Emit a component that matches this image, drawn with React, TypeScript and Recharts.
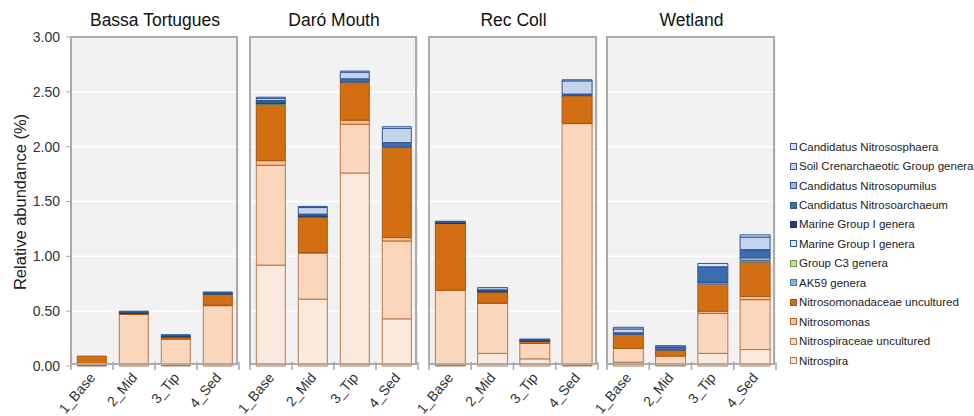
import React from 'react';
import { BarChart, Bar, XAxis, YAxis, CartesianGrid } from 'recharts';

// sites (panels) and samples (bars in each panel)
const sites = ['Bassa Tortugues', 'Daró Mouth', 'Rec Coll', 'Wetland'];
const samples = ['1_Base', '2_Mid', '3_Tip', '4_Sed'];
const yTicks = [0, 0.5, 1, 1.5, 2, 2.5, 3];

// values per taxon, order: BT 1-4, DM 1-4, RC 1-4, W 1-4
const nitrospira = [0, 0, 0.005, 0, 0.92, 0.61, 1.76, 0.43, 0.005, 0.115, 0.065, 0.005, 0.035, 0.01, 0.115, 0.15];
const nitrospiraceae = [0, 0.47, 0.24, 0.55, 0.91, 0.42, 0.445, 0.71, 0.685, 0.455, 0.14, 2.205, 0.125, 0.08, 0.365, 0.455];
const nitrosomonas = [0, 0, 0, 0.005, 0.043, 0.005, 0.037, 0.031, 0, 0.005, 0, 0.005, 0, 0, 0.02, 0.03];
const nitrosomonadaceae = [0.09, 0.01, 0.02, 0.095, 0.51, 0.325, 0.347, 0.826, 0.61, 0.1, 0.021, 0.25, 0.128, 0.055, 0.247, 0.313];
const ak59 = [0, 0, 0, 0, 0, 0, 0, 0, 0, 0, 0, 0, 0, 0, 0.005, 0.01];
const groupC3 = [0, 0, 0, 0.005, 0.008, 0, 0, 0, 0, 0, 0, 0, 0, 0, 0.008, 0.008];
const marineLight = [0, 0, 0, 0, 0, 0, 0, 0, 0, 0, 0, 0, 0, 0, 0.005, 0.02];
const marineDark = [0, 0.01, 0.01, 0.01, 0.01, 0.01, 0, 0, 0.01, 0.01, 0.01, 0, 0, 0, 0, 0];
const nitrosoarchaeum = [0, 0.01, 0.01, 0.01, 0.015, 0.015, 0.03, 0.04, 0.01, 0.01, 0.01, 0.015, 0.015, 0.03, 0.14, 0.07];
const nitrosopumilus = [0, 0, 0, 0, 0.005, 0, 0, 0, 0, 0, 0, 0, 0, 0, 0, 0.005];
const soilCren = [0, 0, 0, 0, 0.02, 0.06, 0.06, 0.13, 0, 0.02, 0, 0.12, 0.035, 0, 0, 0.115];
const nitrososphaera = [0, 0, 0, 0, 0.01, 0.01, 0.01, 0.015, 0, 0, 0, 0.01, 0.015, 0.01, 0.03, 0.02];

// stack order bottom -> top
const series = [
  { key: 'nitrospira', name: 'Nitrospira', values: nitrospira, fill: '#FBE9DD', stroke: '#B8784A' },
  { key: 'nitrospiraceae', name: 'Nitrospiraceae uncultured', values: nitrospiraceae, fill: '#F9D6BC', stroke: '#B8784A' },
  { key: 'nitrosomonas', name: 'Nitrosomonas', values: nitrosomonas, fill: '#F7C39D', stroke: '#C0601A' },
  { key: 'nitrosomonadaceae', name: 'Nitrosomonadaceae uncultured', values: nitrosomonadaceae, fill: '#D26F12', stroke: '#A9550D' },
  { key: 'ak59', name: 'AK59 genera', values: ak59, fill: '#8DB1DF', stroke: '#4A78B8' },
  { key: 'groupC3', name: 'Group C3 genera', values: groupC3, fill: '#C3DDB0', stroke: '#70A040' },
  { key: 'marineLight', name: 'Marine Group I genera', values: marineLight, fill: '#E2ECF8', stroke: '#2F5597' },
  { key: 'marineDark', name: 'Marine Group I genera', values: marineDark, fill: '#243F72', stroke: '#1F3864' },
  { key: 'nitrosoarchaeum', name: 'Candidatus Nitrosoarchaeum', values: nitrosoarchaeum, fill: '#3C6CB0', stroke: '#2F5597' },
  { key: 'nitrosopumilus', name: 'Candidatus Nitrosopumilus', values: nitrosopumilus, fill: '#9DB8E0', stroke: '#2F5597' },
  { key: 'soilCren', name: 'Soil Crenarchaeotic Group genera', values: soilCren, fill: '#C4D4EC', stroke: '#2F5597' },
  { key: 'nitrososphaera', name: 'Candidatus Nitrososphaera', values: nitrososphaera, fill: '#D9E4F4', stroke: '#2F5597' },
];

const FONT = '"Liberation Sans", Arial, Helvetica, sans-serif';
const PLOT_TOP = 37;
const PLOT_BOTTOM = 366;

const panels = [
  { left: 0, width: 239, marginLeft: 11, yAxis: true },
  { left: 250, width: 168, marginLeft: 0, yAxis: false },
  { left: 429, width: 169, marginLeft: 0, yAxis: false },
  { left: 607, width: 169, marginLeft: 0, yAxis: false },
];

const siteData = sites.map((_, si) =>
  samples.map((s, ci) => {
    const row: any = { sample: s };
    series.forEach((sr) => (row[sr.key] = sr.values[si * 4 + ci]));
    return row;
  })
);

const makeTick = (band: number) => (props: any) => {
  const { x, y, payload, index } = props;
  const tx = x + 4;
  const ty = y + 12;
  return (
    <g>
      <line x1={x - band / 2} x2={x - band / 2} y1={y - 4} y2={y + 4} stroke="#A6A6A6" strokeWidth={1.5} />
      {index === 3 && (
        <line x1={x + band / 2} x2={x + band / 2} y1={y - 4} y2={y + 4} stroke="#A6A6A6" strokeWidth={1.5} />
      )}
      <text
        x={tx}
        y={ty}
        textAnchor="end"
        transform={`rotate(-50, ${tx}, ${ty})`}
        fontSize={14}
        fontFamily={FONT}
        fill="#333"
      >
        {payload.value}
      </text>
    </g>
  );
};

const Panel = ({ idx }: { idx: number }) => {
  const p = panels[idx];
  const yw = p.yAxis ? 60 : 0;
  const plotW = p.width - p.marginLeft - yw;
  return (
    <div style={{ position: 'absolute', left: p.left, top: 0 }}>
      <BarChart
        width={p.width}
        height={416}
        data={siteData[idx]}
        margin={{ top: PLOT_TOP, right: 0, bottom: 0, left: p.marginLeft }}
        barCategoryGap="15%"
      >
        <CartesianGrid vertical={false} stroke="#FFFFFF" strokeWidth={1.5} fill="#F2F2F2" fillOpacity={1} />
        <XAxis
          dataKey="sample"
          height={416 - PLOT_BOTTOM}
          tickLine={false}
          axisLine={false}
          tickSize={0}
          tickMargin={0}
          interval={0}
          tick={makeTick(plotW / 4)}
        />
        <YAxis
          hide={!p.yAxis}
          width={yw}
          domain={[0, 3]}
          ticks={yTicks}
          tickFormatter={(v: number) => v.toFixed(2)}
          tick={{ fontSize: 14, fontFamily: FONT, fill: '#333' }}
          tickLine={{ stroke: '#A6A6A6' }}
          axisLine={false}
          tickSize={5}
          tickMargin={6}
        />
        {series.map((s) => (
          <Bar
            key={s.key}
            dataKey={s.key}
            name={s.name}
            stackId="a"
            fill={s.fill}
            stroke={s.stroke}
            strokeWidth={1}
            isAnimationActive={false}
          />
        ))}
      </BarChart>
      <div
        style={{
          position: 'absolute',
          left: p.marginLeft + yw - 1,
          top: PLOT_TOP - 1,
          width: plotW,
          height: PLOT_BOTTOM - PLOT_TOP,
          border: '2px solid #ABABAB',
          boxSizing: 'border-box',
          pointerEvents: 'none',
        }}
      />
      <div
        style={{
          position: 'absolute',
          left: p.marginLeft + yw,
          top: 10,
          width: plotW,
          textAlign: 'center',
          fontFamily: FONT,
          fontSize: 17.5,
          color: '#111',
          whiteSpace: 'nowrap',
        }}
      >
        {sites[idx]}
      </div>
    </div>
  );
};

const App = () => {
  const legendItems = [...series].reverse();
  return (
    <div style={{ position: 'absolute', left: 0, top: 0, width: 974, height: 416, background: '#fff', overflow: 'hidden' }}>
      <style>{`.recharts-surface{overflow:visible}.recharts-wrapper{overflow:visible}`}</style>
      {panels.map((_, i) => (
        <Panel key={i} idx={i} />
      ))}
      <svg style={{ position: 'absolute', left: 0, top: 0 }} width={40} height={416}>
        <text
          x={26}
          y={202}
          textAnchor="middle"
          transform="rotate(-90, 26, 202)"
          fontSize={16.5}
          fontFamily={FONT}
          fill="#222"
        >
          Relative abundance (%)
        </text>
      </svg>
      <div style={{ position: 'absolute', left: 790, top: 137 }}>
        {legendItems.map((s, i) => (
          <div
            key={i}
            style={{ display: 'flex', alignItems: 'center', height: 19.45, fontFamily: FONT, fontSize: 11.5, color: '#222', whiteSpace: 'nowrap' }}
          >
            <span
              style={{
                display: 'inline-block',
                width: 7,
                height: 7,
                boxSizing: 'border-box',
                background: s.fill,
                border: `1px solid ${s.stroke}`,
                marginRight: 2,
              }}
            />
            {s.name}
          </div>
        ))}
      </div>
    </div>
  );
};

export default App;
